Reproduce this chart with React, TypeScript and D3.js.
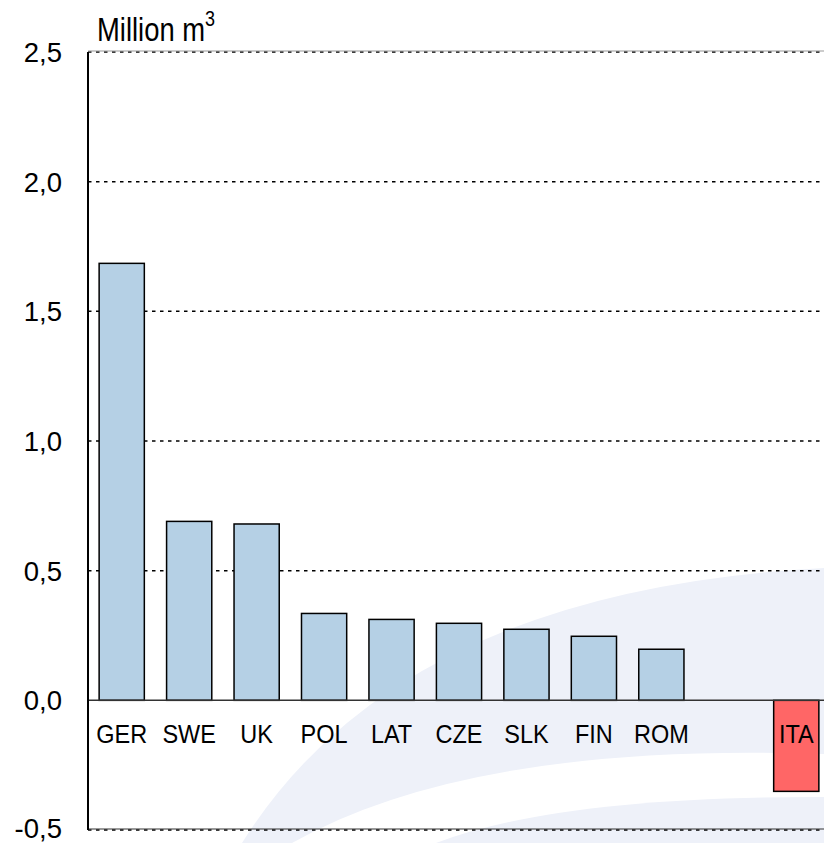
import * as d3 from "d3";

const categories = ["GER", "SWE", "UK", "POL", "LAT", "CZE", "SLK", "FIN", "ROM", "", "ITA"];
const values: (number | null)[] = [1.685, 0.69, 0.68, 0.335, 0.312, 0.297, 0.274, 0.247, 0.197, null, -0.351];
const yTicks = [-0.5, 0, 0.5, 1.0, 1.5, 2.0, 2.5];

const W = 824;
const H = 843;
const margin = { left: 88, top: 52, right: -6, bottom: 13 };

const App = () => {
  const x = d3
    .scaleBand<string>()
    .domain(categories.map((c, i) => c || "blank" + i))
    .range([margin.left, W - margin.right])
    .paddingInner(0.33)
    .paddingOuter(0.165);
  const y = d3.scaleLinear().domain([-0.5, 2.5]).range([H - margin.bottom, margin.top]);
  // comma decimals, plain hyphen for minus
  const fmt = (v: number) => d3.format(".1f")(v).replace(".", ",").replace("\u2212", "-");
  const key = (c: string, i: number) => c || "blank" + i;

  return (
    <svg width={W} height={H} style={{ position: "absolute", left: 0, top: 0 }} fontFamily="'Liberation Sans', Arial, sans-serif">
      {/* watermark in background */}
      <g>
        <path d="M 242 843 Q 400 590 824 568 L 824 843 Z" fill="#eef1f9" />
        <path d="M 292 843 Q 470 742 824 754 L 824 843 Z" fill="#ffffff" />
        <path d="M 436 843 Q 560 796 824 797 L 824 843 Z" fill="#eef1f9" />
      </g>

      {/* grid */}
      {yTicks.filter((t) => t !== 0).map((t) => (
        <line key={t} x1={margin.left} x2={W} y1={y(t)} y2={y(t)} stroke="#000" strokeWidth={1.5} strokeDasharray="3.5,4.5" />
      ))}
      <line x1={margin.left} x2={W} y1={y(2.5) - 1} y2={y(2.5) - 1} stroke="#999" strokeWidth={1} />
      <line x1={margin.left} x2={W} y1={y(-0.5) - 1} y2={y(-0.5) - 1} stroke="#333" strokeWidth={1} />

      {/* bars */}
      {categories.map((c, i) => {
        const v = values[i];
        if (v == null) return null;
        return (
          <rect
            key={key(c, i)}
            x={x(key(c, i))}
            width={x.bandwidth()}
            y={y(Math.max(0, v))}
            height={Math.abs(y(v) - y(0))}
            fill={v < 0 ? "#ff6666" : "#b5d0e5"}
            stroke="#000"
            strokeWidth={1.5}
          />
        );
      })}

      {/* zero line */}
      <line x1={margin.left} x2={W} y1={y(0)} y2={y(0)} stroke="#333" strokeWidth={1.5} />
      {/* y axis */}
      <line x1={margin.left} x2={margin.left} y1={y(2.5)} y2={y(-0.5)} stroke="#000" strokeWidth={2} />

      {/* category labels */}
      {categories.map((c, i) => (
        <text
          key={"l" + i}
          transform={`translate(${(x(key(c, i)) ?? 0) + x.bandwidth() / 2},${y(0) + 43}) scale(1,1.08)`}
          textAnchor="middle"
          fontSize={23.5}
          fill="#000"
        >
          {c}
        </text>
      ))}

      {/* y tick labels */}
      {yTicks.map((t) => (
        <text key={"t" + t} x={62} y={y(t) + (t === -0.5 ? 8 : 10)} textAnchor="end" fontSize={27.5} fill="#000">
          {fmt(t)}
        </text>
      ))}

      <text transform="translate(97,41) scale(1,1.18)" fontSize={27.4} fill="#000">
        Million m<tspan dy={-13} fontSize={18}>3</tspan>
      </text>
    </svg>
  );
};

export default App;
